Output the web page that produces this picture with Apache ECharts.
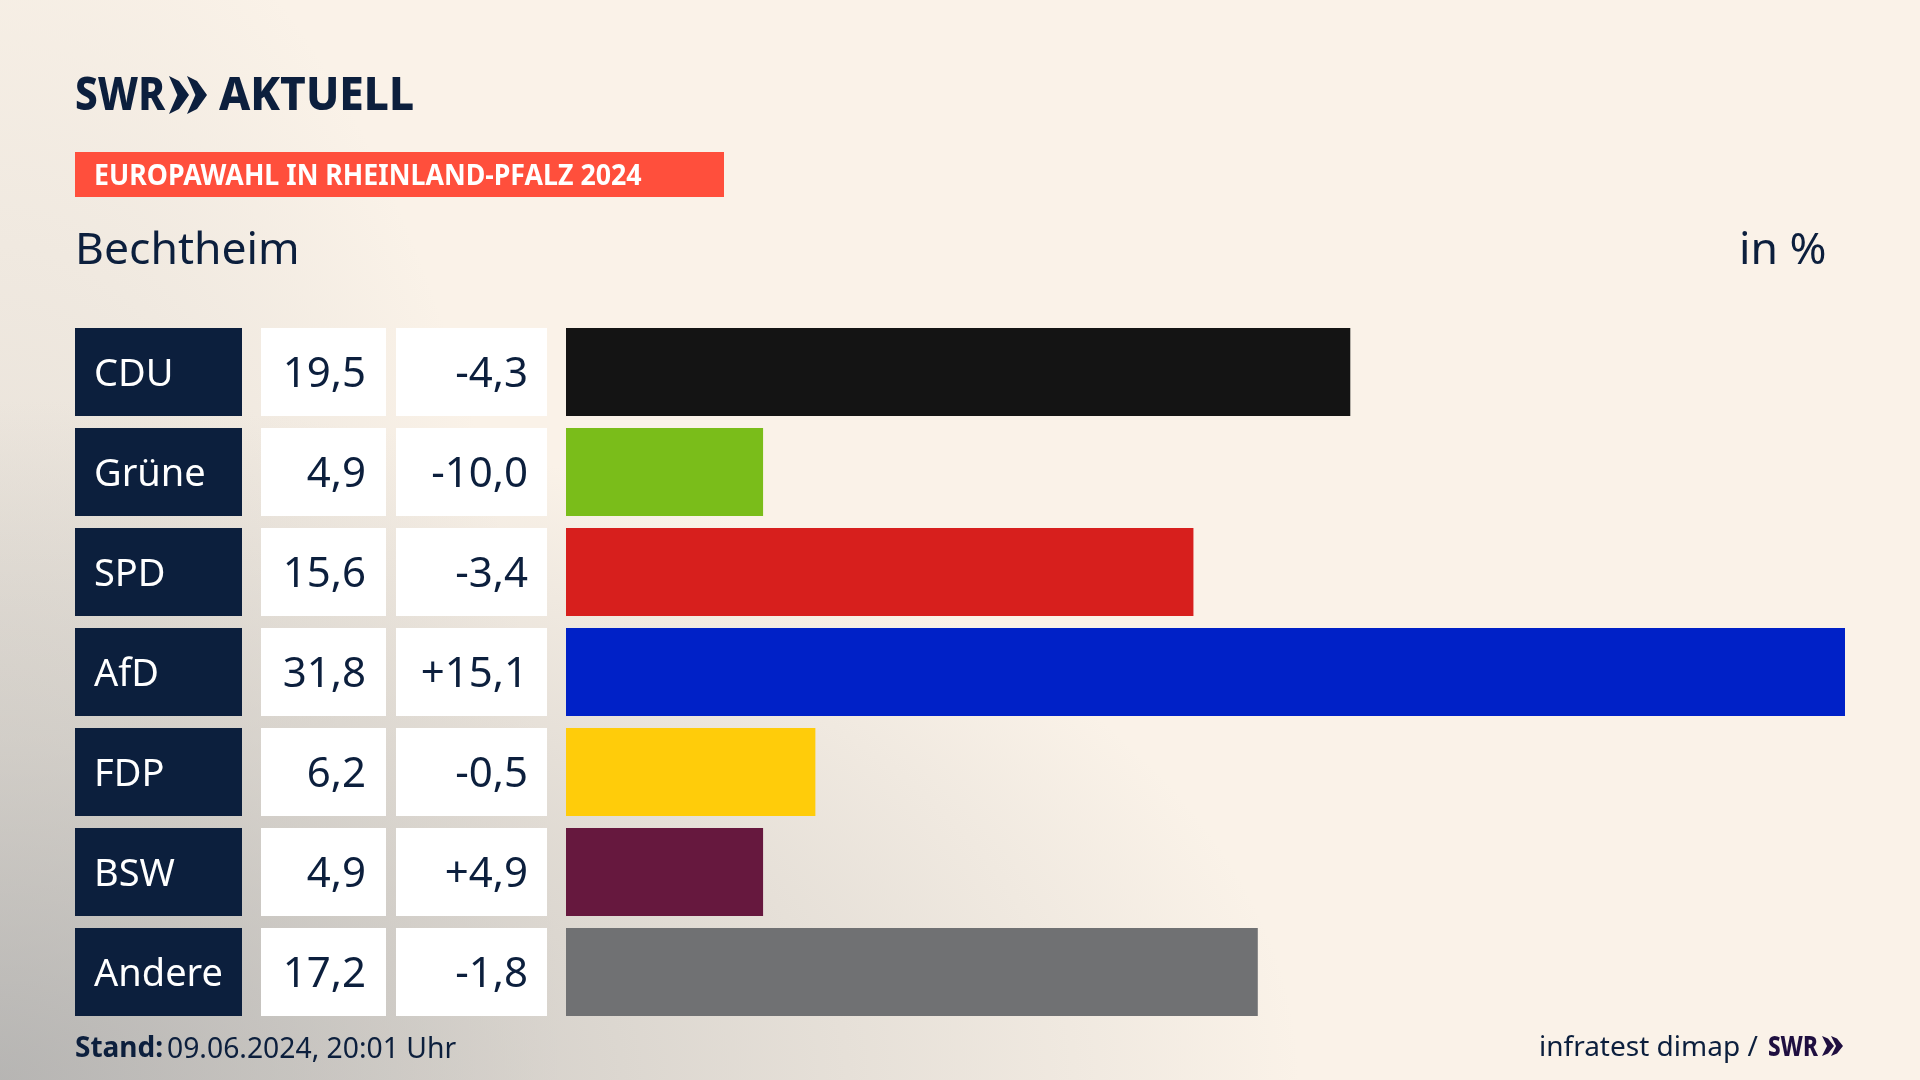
<!DOCTYPE html>
<html>
<head>
<meta charset="utf-8">
<title>Europawahl Bechtheim</title>
<script src="https://cdn.jsdelivr.net/npm/echarts@6/dist/echarts.min.js"></script>
<style>
html, body { margin: 0; padding: 0; width: 1920px; height: 1080px; overflow: hidden; }
body {
    background:
        radial-gradient(ellipse 1300px 680px at 0 1080px, rgba(168,168,168,0.72) 0%, rgba(190,188,184,0.48) 50%, rgba(250,242,232,0) 100%),
        radial-gradient(ellipse 560px 1250px at 0 1080px, rgba(190,188,184,0.5) 0%, rgba(250,242,232,0) 100%),
        #faf2e8;
}
#main { width: 1920px; height: 1080px; }
</style>
</head>
<body>
<div id="main"></div>
<script>
var parties = ['CDU', 'Grüne', 'SPD', 'AfD', 'FDP', 'BSW', 'Andere'];
var shares = [19.5, 4.9, 15.6, 31.8, 6.2, 4.9, 17.2];
var changes = ['-4,3', '-10,0', '-3,4', '+15,1', '-0,5', '+4,9', '-1,8'];
var barColors = ['#141414', '#7abd1a', '#d71f1d', '#0021c7', '#ffcc0a', '#66183e', '#707173'];

var font = 'Noto Sans';
var navy = '#0c1f3d';
var rowTop = 322, rowArea = 700, rowBar = 88;

var grids = [], xAxes = [], yAxes = [], series = [];

// one grid per column, they all share the same rows
function addColumn(left, width, xMax, data, barStyle, label) {
    var i = grids.length;
    grids.push({ left: left, width: width, top: rowTop, height: rowArea });
    xAxes.push({ gridIndex: i, type: 'value', min: 0, max: xMax, show: false });
    yAxes.push({ gridIndex: i, type: 'category', inverse: true, data: parties, show: false });
    series.push({
        type: 'bar',
        xAxisIndex: i,
        yAxisIndex: i,
        barWidth: rowBar,
        silent: true,
        data: data,
        itemStyle: barStyle,
        label: label
    });
}

function cellLabel(texts, color, pos, dist, size) {
    return {
        show: true,
        position: pos,
        distance: dist,
        offset: [0, 3],
        color: color,
        fontFamily: font,
        fontSize: size,
        formatter: function (p) { return texts[p.dataIndex]; }
    };
}

var ones = parties.map(function () { return 1; });
var shareTexts = shares.map(function (v) { return v.toFixed(1).replace('.', ','); });

addColumn(75, 167, 1, ones, { color: navy }, cellLabel(parties, '#ffffff', 'insideLeft', 19, 38));
addColumn(261, 125, 1, ones, { color: '#ffffff' }, cellLabel(shareTexts, navy, 'insideRight', 20, 42));
addColumn(396, 151, 1, ones, { color: '#ffffff' }, cellLabel(changes, navy, 'insideRight', 19, 42));
addColumn(566, 1279, 31.8, shares.map(function (v, i) {
    return { value: v, itemStyle: { color: barColors[i] } };
}), {}, { show: false });

// y is the middle of the text line
function txt(x, y, text, size, weight, color, scaleX) {
    return {
        type: 'text',
        x: x,
        y: y,
        scaleX: scaleX || 1,
        style: {
            text: text,
            fontFamily: font,
            fontSize: size,
            fontWeight: weight,
            fill: color,
            verticalAlign: 'middle'
        }
    };
}

function chevrons(x, top, h, w, gap, color) {
    var out = [];
    for (var j = 0; j < 2; j++) {
        var x0 = x + j * gap;
        out.push({
            type: 'polygon',
            shape: { points: [[x0, top], [x0 + w * 0.5, top + h * 0.13], [x0 + w, top + h / 2], [x0 + w * 0.5, top + h * 0.87], [x0, top + h], [x0 + w * 0.42, top + h / 2]] },
            style: { fill: color }
        });
    }
    return out;
}

var chart = echarts.init(document.getElementById('main'));
chart.setOption({
    animation: false,
    grid: grids,
    xAxis: xAxes,
    yAxis: yAxes,
    series: series,
    graphic: [
        txt(75, 96.5, 'SWR', 47, 800, navy, 0.86),
        txt(219, 96.5, 'AKTUELL', 47, 800, navy, 0.94),
        { type: 'rect', shape: { x: 75, y: 152, width: 649, height: 45 }, style: { fill: '#ff4f3c' } },
        txt(94, 177.5, 'EUROPAWAHL IN RHEINLAND-PFALZ 2024', 28, 700, '#ffffff', 0.955),
        txt(75, 251.5, 'Bechtheim', 44.5, 400, navy),
        txt(1739, 251.5, 'in %', 44.5, 400, navy),
        txt(75, 1049.5, 'Stand:', 28, 700, navy),
        txt(167, 1049.5, '09.06.2024, 20:01 Uhr', 28.3, 400, navy),
        txt(1539, 1048, 'infratest dimap /', 28, 400, navy),
        txt(1768, 1048, 'SWR', 28, 800, '#1f0f40', 0.8)
    ].concat(chevrons(169, 76, 38, 20, 18, navy)).concat(chevrons(1822, 1036, 20, 12, 9, '#1f0f40'))
});
</script>
</body>
</html>
